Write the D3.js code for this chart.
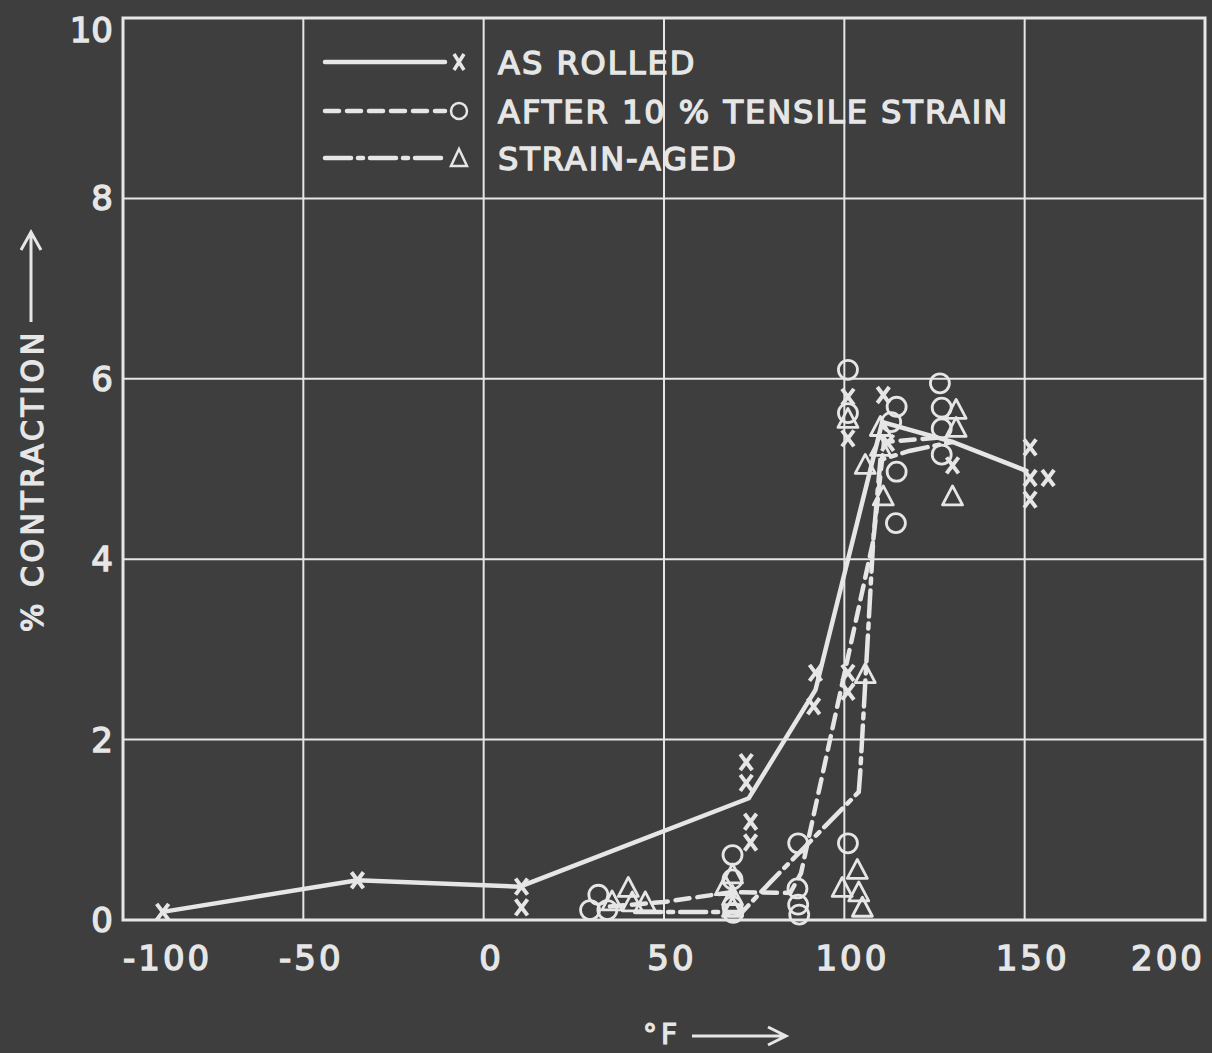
<!DOCTYPE html>
<html>
<head>
  <meta charset="utf-8">
  <title>% Contraction vs temperature</title>
  <style>
    body { margin: 0; background: #3e3e3e; }
    svg { display: block; }
    text { font-family: "DejaVu Sans", sans-serif; fill: #e6e6e6; }
  </style>
</head>
<body>
  <svg width="1212" height="1053"></svg>
  <script src="https://d3js.org/d3.v7.min.js"></script>
  <script>
    // values: [°F, % contraction]
    const asRolledPts = [[-89,0.09],[-35,0.44],[10.5,0.37],[10.5,0.14],[72.8,1.75],[72.8,1.52],[74,1.09],[74,0.86],
      [92,2.74],[91.5,2.37],[101,2.74],[101,2.53],[101,5.8],[101,5.34],[110.8,5.82],[112,5.29],[130,5.04],
      [151.5,5.24],[151.5,4.9],[151.5,4.66],[156.5,4.9]];
    const asRolledLine = [[-89,0.09],[-35,0.44],[10,0.37],[73.5,1.35],[92,2.55],[110.5,5.52],[130,5.3],[150.5,4.98]];

    const tensilePts = [[29.5,0.11],[31.8,0.28],[34.3,0.11],[69,0.72],[69,0.45],[69,0.15],[69.2,0.08],
      [87.2,0.85],[87,0.35],[87.2,0.17],[87.5,0.06],[101,0.85],[101,6.1],[101,5.62],
      [114.5,5.69],[113,5.52],[114.5,4.97],[114.3,4.4],[126.5,5.95],[127,5.68],[127,5.45],[127,5.16]];
    const tensileLine = [[35,0.15],[50,0.2],[69,0.31],[85,0.3],[88,0.52],[108,4.2],[111,5.3],[127,5.35]];

    const agedPts = [[35.6,0.2],[40.1,0.35],[41.2,0.19],[44.8,0.19],[67,0.37],[69,0.5],[69,0.26],[69,0.13],
      [99.4,0.35],[103.6,0.55],[104,0.3],[105,0.13],[105.8,2.72],[101,5.55],[105.8,5.04],[110,5.46],
      [110,5.24],[110.8,4.69],[131,5.65],[131,5.45],[130,4.69]];
    const agedLine = [[42,0.09],[71.7,0.09],[79.5,0.42],[104,1.42],[104.4,1.63],[108,4.2],[110,5.1],[118,5.2],[130,5.3]];

    const xTicks = [-100, -50, 0, 50, 100, 150, 200];
    const yTicks = [0, 2, 4, 6, 8, 10];
    const legendLabels = ["AS ROLLED", "AFTER 10 % TENSILE STRAIN", "STRAIN-AGED"];

    const fg = "#e6e6e6";
    const svg = d3.select("svg");
    const x = d3.scaleLinear().domain([-100, 200]).range([123, 1205]);
    const y = d3.scaleLinear().domain([0, 10]).range([920, 18]);

    // grid
    const g = svg.append("g");
    g.selectAll(".vgrid").data(xTicks.slice(1, -1)).enter().append("line")
      .attr("x1", d => x(d)).attr("x2", d => x(d))
      .attr("y1", y(0)).attr("y2", y(10))
      .attr("stroke", fg).attr("stroke-width", 2);
    g.selectAll(".hgrid").data(yTicks.slice(1, -1)).enter().append("line")
      .attr("x1", x(-100)).attr("x2", x(200))
      .attr("y1", d => y(d)).attr("y2", d => y(d))
      .attr("stroke", fg).attr("stroke-width", 2);
    g.append("rect")
      .attr("x", x(-100)).attr("y", y(10))
      .attr("width", x(200) - x(-100)).attr("height", y(0) - y(10))
      .attr("fill", "none").attr("stroke", fg).attr("stroke-width", 3);

    // tick labels
    svg.selectAll(".xt").data(xTicks).enter().append("text")
      .attr("x", (d, i) => i === 0 || i === xTicks.length - 1 ? x(d) : x(d) + 8)
      .attr("y", 970)
      .attr("text-anchor", (d, i) => i === 0 ? "start" : i === xTicks.length - 1 ? "end" : "middle")
      .attr("font-size", 34).attr("letter-spacing", 3)
      .attr("stroke", fg).attr("stroke-width", 1.4)
      .text(d => d < 0 ? "-" + Math.abs(d) : d);
    svg.selectAll(".yt").data(yTicks).enter().append("text")
      .attr("x", 113)
      .attr("y", d => Math.max(y(d), 30) + 12)
      .attr("text-anchor", "end")
      .attr("font-size", 34)
      .attr("stroke", fg).attr("stroke-width", 1.4)
      .text(d => d);

    // axis titles with arrows
    svg.append("text")
      .attr("transform", "translate(43,632) rotate(-90)")
      .attr("font-size", 30).attr("letter-spacing", 3.5)
      .attr("stroke", fg).attr("stroke-width", 1.4)
      .text("% CONTRACTION");
    svg.append("path")
      .attr("d", "M31,322 L31,232 M21,250 L31,232 L41,250")
      .attr("fill", "none").attr("stroke", fg).attr("stroke-width", 3);
    svg.append("text")
      .attr("x", 643).attr("y", 1044)
      .attr("font-size", 28).attr("letter-spacing", 4)
      .attr("stroke", fg).attr("stroke-width", 1.2)
      .text("°F");
    svg.append("path")
      .attr("d", "M692,1036 L786,1036 M768,1027 L786,1036 L768,1045")
      .attr("fill", "none").attr("stroke", fg).attr("stroke-width", 3);

    // series lines
    const line = d3.line().x(d => x(d[0])).y(d => y(d[1]));
    const series = [
      { line: asRolledLine, pts: asRolledPts, dash: null, mark: "x" },
      { line: tensileLine, pts: tensilePts, dash: "14 8", mark: "o" },
      { line: agedLine, pts: agedPts, dash: "26 7 5 7", mark: "t" }
    ];
    series.forEach(s => {
      svg.append("path").datum(s.line)
        .attr("d", line)
        .attr("fill", "none").attr("stroke", fg)
        .attr("stroke-width", 4.5).attr("stroke-linecap", "round")
        .attr("stroke-dasharray", s.dash);
    });

    function drawMark(sel, type) {
      if (type === "x") {
        sel.append("path").attr("d", "M-6,-8 L6,8 M6,-8 L-6,8")
          .attr("stroke", fg).attr("stroke-width", 4).attr("fill", "none");
      } else if (type === "o") {
        sel.append("circle").attr("r", 9.5)
          .attr("stroke", fg).attr("stroke-width", 2.8).attr("fill", "none");
      } else {
        sel.append("path").attr("d", "M0,-11 L10,8 L-10,8 Z")
          .attr("stroke", fg).attr("stroke-width", 2.8).attr("fill", "none")
          .attr("stroke-linejoin", "round");
      }
    }

    series.forEach(s => {
      svg.append("g").selectAll("g").data(s.pts).enter().append("g")
        .attr("transform", d => `translate(${x(d[0])},${y(d[1])})`)
        .each(function() { drawMark(d3.select(this), s.mark); });
    });

    // legend
    const legendY = [62, 111, 158];
    series.forEach((s, i) => {
      svg.append("line")
        .attr("x1", 325).attr("x2", 445).attr("y1", legendY[i]).attr("y2", legendY[i])
        .attr("stroke", fg).attr("stroke-width", 4.5).attr("stroke-linecap", "round")
        .attr("stroke-dasharray", s.dash);
      const m = svg.append("g").attr("transform", `translate(459,${legendY[i]})`);
      if (s.mark === "x") {
        m.append("path").attr("d", "M-5,-8 L5,8 M5,-8 L-5,8")
          .attr("stroke", fg).attr("stroke-width", 3.5).attr("fill", "none");
      } else if (s.mark === "o") {
        m.append("circle").attr("r", 8).attr("stroke", fg).attr("stroke-width", 2.5).attr("fill", "none");
      } else {
        m.append("path").attr("d", "M0,-9 L8,8 L-8,8 Z")
          .attr("stroke", fg).attr("stroke-width", 2.5).attr("fill", "none");
      }
      svg.append("text")
        .attr("x", 498).attr("y", legendY[i] + 12)
        .attr("font-size", 32).attr("letter-spacing", 2)
        .attr("stroke", fg).attr("stroke-width", 1.4)
        .text(legendLabels[i]);
    });
  </script>
</body>
</html>
